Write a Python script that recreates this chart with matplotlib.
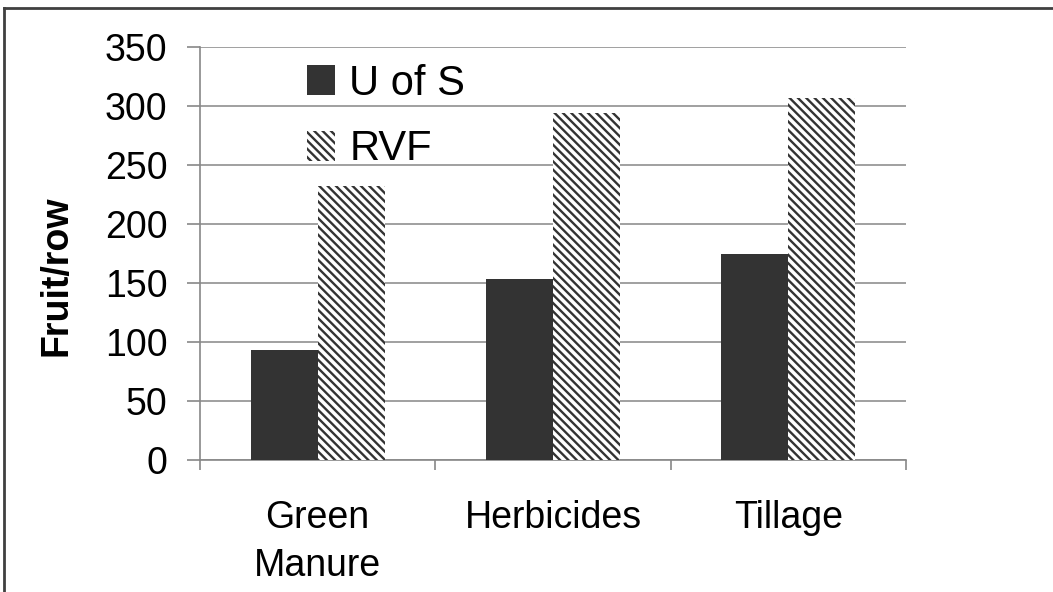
import matplotlib
matplotlib.use('Agg')
import matplotlib.pyplot as plt
from matplotlib.lines import Line2D
import numpy as np

plt.rcParams['font.family'] = ['Liberation Sans', 'DejaVu Sans']
plt.rcParams['hatch.linewidth'] = 1.7
plt.rcParams['hatch.color'] = '#333333'

# data
categories = ['Green\nManure', 'Herbicides', 'Tillage']
series_names = ['U of S', 'RVF']
u_of_s = [93, 153, 175]
rvf = [232, 294, 307]
y_ticks = [0, 50, 100, 150, 200, 250, 300, 350]

fig = plt.figure(figsize=(10.53, 5.92), dpi=100)
ax = fig.add_axes([200 / 1053, 132 / 592, 706 / 1053, 413 / 592])

x = np.arange(len(categories))
w = 0.285
ax.bar(x - w / 2, u_of_s, w, color='#333333', label=series_names[0], zorder=3)
ax.bar(x + w / 2, rvf, w, color='white', hatch='\\\\\\\\', edgecolor='#333333',
       linewidth=0, label=series_names[1], zorder=3)

ax.set_xlim(-0.5, 2.5)
ax.set_ylim(0, 350)
ax.set_yticks(y_ticks)
ax.set_yticklabels([str(t) for t in y_ticks], fontsize=27)
ax.set_xticks(x)
ax.set_xticklabels(categories, fontsize=27, linespacing=1.42)
ax.set_xticks([-0.5, 0.5, 1.5, 2.5], minor=True)

ax.tick_params(axis='x', which='major', length=0, pad=29)
ax.tick_params(axis='x', which='minor', length=7.5, color='#888888', width=1.2)
ax.tick_params(axis='y', length=9.5, color='#888888', width=1.2, pad=14)

ax.grid(axis='y', color='#a0a0a0', linewidth=1.4, zorder=0)
ax.set_axisbelow(True)
for s in ['top', 'right']:
    ax.spines[s].set_visible(False)
for s in ['left', 'bottom']:
    ax.spines[s].set_color('#888888')
    ax.spines[s].set_linewidth(1.2)

fig.text(57 / 1053, 1 - 276 / 592, 'Fruit/row', rotation=90, fontsize=27,
         fontweight='bold', ha='center', va='center')

leg = ax.legend(loc='upper left', bbox_to_anchor=(90 / 706, 1.0), frameon=False,
                fontsize=30, handlelength=0.67, handleheight=0.7,
                handletextpad=0.35, labelspacing=0.62, borderaxespad=0)

# chart frame (top and left edges visible)
fig.add_artist(Line2D([4 / 1053, 1], [1 - 8 / 592, 1 - 8 / 592],
                      transform=fig.transFigure, color='#404040', lw=2))
fig.add_artist(Line2D([4 / 1053, 4 / 1053], [1 - 8 / 592, 0],
                      transform=fig.transFigure, color='#404040', lw=2))

fig.savefig('out.png', dpi=100)
